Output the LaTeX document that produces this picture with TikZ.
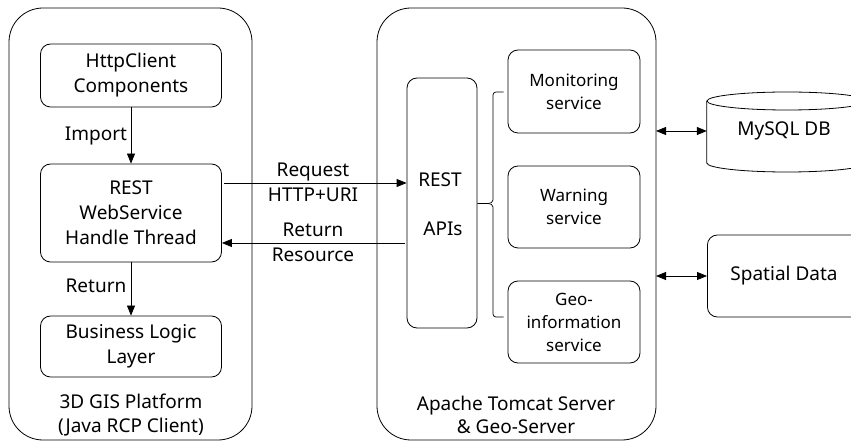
\documentclass[tikz,border=0pt]{standalone}
\usepackage{fontspec}
\setmainfont{Noto Sans}
\usetikzlibrary{arrows.meta}
\begin{document}
\begin{tikzpicture}[x=1pt,y=-1pt,
  box/.style={draw,rounded corners=10pt,line width=0.8pt,inner sep=0pt,align=center,font=\fontsize{19}{25}\selectfont},
  sbox/.style={draw,rounded corners=10pt,line width=0.8pt,inner sep=0pt,align=center,font=\fontsize{17}{23}\selectfont},
  outer/.style={draw,rounded corners=34pt,line width=0.8pt},
  lbl/.style={font=\fontsize{19}{25}\selectfont,align=center,inner sep=0pt},
  blbl/.style={font=\fontsize{19}{23.5}\selectfont,align=center,inner sep=0pt},
  arr/.style={-{Triangle[length=10pt,width=8pt]},line width=0.8pt},
  darr/.style={{Triangle[length=10pt,width=8pt]}-{Triangle[length=10pt,width=8pt]},line width=0.8pt}]
\useasboundingbox (0,0) rectangle (851,443);
\draw[outer] (9,8) rectangle (252,440);
\draw[outer] (377,8) rectangle (656,440);
\node[box,minimum width=181pt,minimum height=63pt] (http) at (131,75.5) {HttpClient\\Components};
\node[box,minimum width=181pt,minimum height=98pt] (rest) at (131,213) {REST\\WebService\\Handle Thread};
\node[box,minimum width=181pt,minimum height=61pt] (biz) at (131,346.5) {Business Logic\\Layer};
\draw[arr] (http) -- (rest);
\draw[arr] (rest) -- (biz);
\node[lbl] (imp) at (96,136) {Import};
\node[lbl] (retl) at (96,286) {Return};
\node[blbl] (client) at (131,415) {3D GIS Platform\\(Java RCP Client)};
\node[box,minimum width=70pt,minimum height=250pt] (api) at (442,203) {};
\node[lbl] (apit1) at (440,180) {REST};
\node[lbl] (apit2) at (443,229) {APIs};
\node[sbox,minimum width=132pt,minimum height=83pt] (mon) at (574,91.5) {Monitoring\\service};
\node[sbox,minimum width=132pt,minimum height=82pt] (warn) at (574,207) {Warning\\service};
\node[sbox,minimum width=132pt,minimum height=82pt] (geo) at (574,322) {Geo-\\information\\service};
\draw[line width=0.7pt] ([xshift=-4pt]mon.west |- 0,92) -- (496,92) to[out=180,in=90] (493,95) -- (493,200)
  to[out=-90,in=0] (488,203.5) -- (api.east |- 0,203.5);
\draw[line width=0.7pt] (488,203.5) to[out=0,in=90] (493,207) -- (493,314) to[out=-90,in=180] (496,317) -- ([xshift=-4pt]geo.west |- 0,317);
\node[blbl] (server) at (516,415) {Apache Tomcat Server\\\& Geo-Server};
\coordinate (rqs) at (224,183);
\coordinate (rts) at (405,243);
\draw[arr] (rqs) -- (api.west |- rqs);
\draw[arr] (rts) -- (rest.east |- rts);
\node[lbl] (req) at (313,182) {Request\\HTTP+URI};
\node[lbl] (ret) at (313,242) {Return\\Resource};
\node[minimum width=160pt,minimum height=80pt,inner sep=0pt] (db) at (787,132) {};
\draw[line width=0.8pt] (db.west |- 0,101) -- (db.west |- 0,163) arc[start angle=180,end angle=360,x radius=80pt,y radius=9pt] -- (db.east |- 0,101);
\draw[line width=0.8pt] (787,101) ellipse[x radius=80pt,y radius=9pt];
\node[lbl] (dbt) at (784,131) {MySQL DB};
\node[box,minimum width=160pt,minimum height=82pt,anchor=west] (sp) at (707,276) {};
\node[lbl] (spt) at (784,276) {Spatial Data};
\coordinate (d1) at (656,131);
\coordinate (d2) at (656,276);
\draw[darr] (d1) -- (db.west |- d1);
\draw[darr] (d2) -- (sp.west);
\end{tikzpicture}
\end{document}
